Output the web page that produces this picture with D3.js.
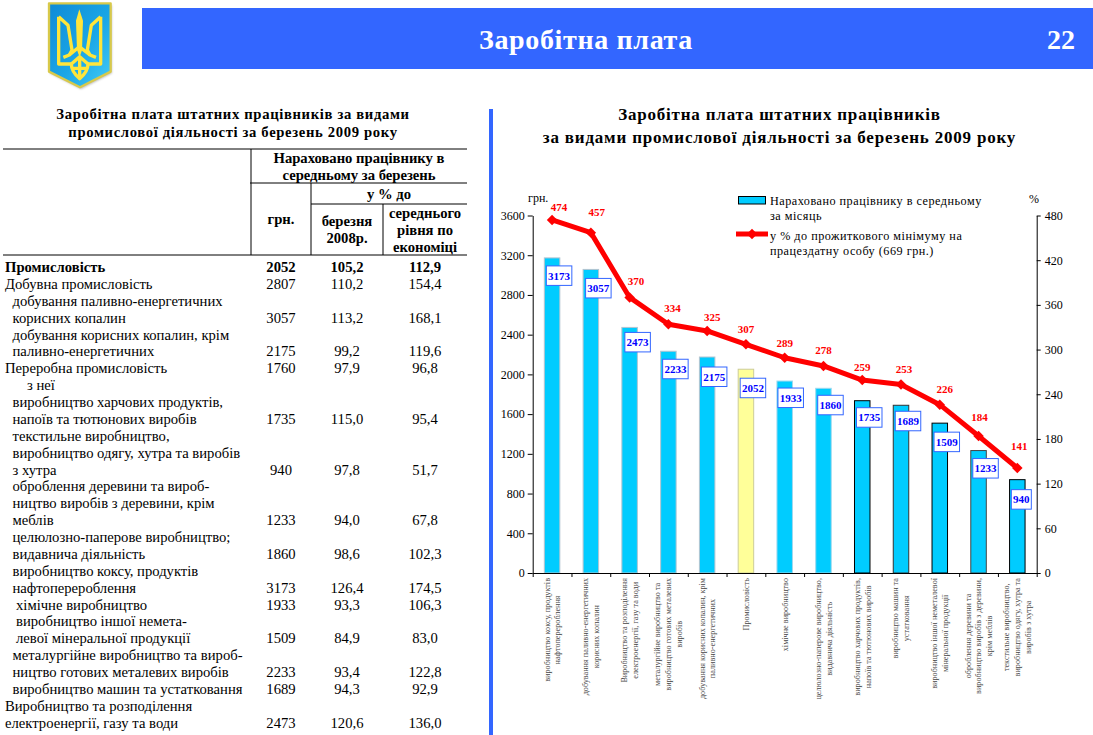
<!DOCTYPE html>
<html lang="uk"><head><meta charset="utf-8">
<script src="https://cdn.jsdelivr.net/npm/d3@7/dist/d3.min.js"></script>
<style>html,body{margin:0;padding:0;background:#fff}svg{display:block}text{font-family:"Liberation Serif",serif}</style>
</head><body><div id="c"></div>
<script>
// ---------- chart data ----------
const categories = [
  ["виробництво коксу, продуктів","нафтоперероблення"],
  ["добування паливно-енергетичних","корисних копалин"],
  ["Виробництво та розподілення","електроенергії, газу та води"],
  ["металургійне виробництво та","виробництво готових металевих","виробів"],
  ["добування корисних копалин, крім","паливно-енергетичних"],
  ["Промисловість"],
  ["хімічне виробництво"],
  ["целюлозно-паперове виробництво,","видавнича діяльність"],
  ["виробництво харчових продуктів,","напоїв та тютюнових виробів"],
  ["виробництво машин та","устатковання"],
  ["виробництво іншої неметалевої","мінеральної продукції"],
  ["оброблення деревини та","виробництво виробів з деревини,","крім меблів"],
  ["текстильне виробництво,","виробництво одягу, хутра та","виробів з хутра"]
];
const wages = [3173,3057,2473,2233,2175,2052,1933,1860,1735,1689,1509,1233,940];
const pctOfMinimum = [474,457,370,334,325,307,289,278,259,253,226,184,141];
const leftTicks = [0,400,800,1200,1600,2000,2400,2800,3200,3600];
const rightTicks = [0,60,120,180,240,300,360,420,480];
const legendBar = ["Нараховано працівнику в середньому","за місяць"];
const legendLine = ["у % до прожиткового мінімуму на","працездатну особу (669 грн.)"];

// ---------- table data ----------
const tableLabels = [
  ["Промисловість"],["Добувна промисловість"],
  ["добування паливно-енергетичних","корисних копалин"],
  ["добування корисних копалин, крім","паливно-енергетичних"],
  ["Переробна промисловість"],["з неї"],
  ["виробництво харчових продуктів,","напоїв та тютюнових виробів"],
  ["текстильне виробництво,","виробництво одягу, хутра та виробів","з хутра"],
  ["оброблення деревини та вироб-","ництво виробів з деревини, крім","меблів"],
  ["целюлозно-паперове виробництво;","видавнича діяльність"],
  ["виробництво коксу, продуктів","нафтоперероблення"],
  ["хімічне виробництво"],
  ["виробництво іншої немета-","левої мінеральної продукції"],
  ["металургійне виробництво та вироб-","ництво готових металевих виробів"],
  ["виробництво машин та устатковання"],
  ["Виробництво та розподілення","електроенергії, газу та води"]
];
const tableUah = ["2052","2807","3057","2175","1760","","1735","940","1233","1860","3173","1933","1509","2233","1689","2473"];
const tablePctYear = ["105,2","110,2","113,2","99,2","97,9","","115,0","97,8","94,0","98,6","126,4","93,3","84,9","93,4","94,3","120,6"];
const tablePctAvg = ["112,9","154,4","168,1","119,6","96,8","","95,4","51,7","67,8","102,3","174,5","106,3","83,0","122,8","92,9","136,0"];

// ---------- layout ----------
const W=1093,H=735;
const plot={l:532.7,r:1036.7,t:215.5,b:573};
const rowIndent=[5,5,12.5,12.5,5,27,12.5,12.5,12.5,12.5,12.5,16,16,12.5,12.5,5];
const boxDx=[7,7.5,8,7,7,7,6,7,7,7,7,7,4];
const boxDy=[8,9,5,8,10,9,7,7,7,6,9,8,10];
const redDx=[7,6,6.5,4,5,0,0,0,0,3,5,1,2];
const redDy=[13,20,16,16,14,15,15,16,13,15,16,19,22];
const edge=["#b4c4d0","#b4c4d0","#b4c4d0","#b4c4d0","#b4c4d0","#cccc99","#9fd8ee","#9fd8ee","#000","#333","#000","#444","#000"];

const svg=d3.select("#c").append("svg").attr("width",W).attr("height",H).attr("viewBox",`0 0 ${W} ${H}`);
const defs=svg.append("defs");
const g1=defs.append("linearGradient").attr("id","sh").attr("x1",0).attr("y1",0).attr("x2",1).attr("y2",1);
g1.append("stop").attr("offset",0).attr("stop-color","#0f8ad6");
g1.append("stop").attr("offset",.55).attr("stop-color","#1aa6e6");
g1.append("stop").attr("offset",1).attr("stop-color","#43ccf8");
const fl=defs.append("filter").attr("id","blur").attr("x","-20%").attr("y","-20%").attr("width","140%").attr("height","140%");
fl.append("feGaussianBlur").attr("stdDeviation",2.5);

// banner
svg.append("rect").attr("x",142).attr("y",8).attr("width",951).attr("height",61).attr("fill","#3366ff");
svg.append("text").attr("x",586).attr("y",49).attr("text-anchor","middle").attr("fill","#fff").attr("font-weight","bold").attr("font-size",28).attr("letter-spacing",.65).text("Заробітна плата");
svg.append("text").attr("x",1061).attr("y",49).attr("text-anchor","middle").attr("fill","#fff").attr("font-weight","bold").attr("font-size",28).text("22");

// emblem
const em=svg.append("g").attr("transform","translate(30,0) scale(0.3333)");
const shield="M57 10 L242 10 L242 215 L150 262 L57 215 Z";
em.append("path").attr("d",shield).attr("fill","#999").attr("transform","translate(3,5)").attr("filter","url(#blur)").attr("opacity",.7);
em.append("path").attr("d",shield).attr("fill","url(#sh)").attr("stroke","#d8c94a").attr("stroke-width",7).attr("stroke-linejoin","round");
const tri=em.append("g").attr("fill","none").attr("stroke","#ffe53a").attr("stroke-width",10).attr("stroke-linejoin","round");
["M86 50 L86 192 L124 192 M86 50 L114 76 L126 150 L118 165 L100 172",
 "M212 50 L212 192 L174 192 M212 50 L184 76 L172 150 L180 165 L198 172",
 "M118 165 L148 140 L180 165 M124 192 C124 215 140 228 149 236 C158 228 174 215 174 192 M149 175 L149 236 M124 192 L149 170 L174 192 M128 205 L170 205"
].forEach(d=>tri.append("path").attr("d",d));
em.append("path").attr("d","M148 28 L159 62 L156 150 L149 172 L141 150 L138 62 Z").attr("fill","#ffe53a");

// divider
svg.append("rect").attr("x",489).attr("y",109).attr("width",4).attr("height",626).attr("fill","#3366ff");

// ---------- left table ----------
const tb=svg.append("g").attr("fill","#000").attr("font-size",14.67);
const centered=(t,x,y,bold)=>tb.append("text").attr("x",x).attr("y",y).attr("text-anchor","middle").attr("font-weight",bold?"bold":null).text(t);
tb.append("text").attr("x",233).attr("y",119).attr("text-anchor","middle").attr("font-weight","bold").attr("letter-spacing",.65).text("Заробітна плата штатних працівників за видами");
tb.append("text").attr("x",233).attr("y",137).attr("text-anchor","middle").attr("font-weight","bold").attr("letter-spacing",.65).text("промислової діяльності  за березень 2009 року");
[[3,467,149],[250,467,183],[311,467,204],[3,467,255]].forEach(([a,b,y])=>tb.append("line").attr("x1",a).attr("x2",b).attr("y1",y).attr("y2",y).attr("stroke","#000"));
[[251,149,255],[311,183,255],[383,204,255]].forEach(([x,a,b])=>tb.append("line").attr("x1",x).attr("x2",x).attr("y1",a).attr("y2",b).attr("stroke","#000"));
[["Нараховано працівнику в",359,163],["середньому за березень",359,180],["у % до",389,199],["грн.",281,224],["березня",347,226],["2008р.",347,243],["середнього",425,218],["рівня по",425,235],["економіці",425,252]]
  .forEach(([t,x,y])=>centered(t,x,y,true));
let lineNo=0;
const rowH=16.88,firstY=272;
tableLabels.forEach((lines,i)=>{
  const bold=i===0;
  lines.forEach(t=>{
    tb.append("text").attr("x",rowIndent[i]).attr("y",firstY+lineNo*rowH).attr("font-weight",bold?"bold":null).text(t);
    lineNo++;
  });
  const y=firstY+(lineNo-1)*rowH;
  centered(tableUah[i],281,y,bold);
  centered(tablePctYear[i],347,y,bold);
  centered(tablePctAvg[i],425,y,bold);
});

// ---------- chart ----------
const ch=svg.append("g");
ch.append("text").attr("x",779.5).attr("y",120).attr("text-anchor","middle").attr("font-weight","bold").attr("font-size",17).attr("letter-spacing",.8).text("Заробітна плата штатних працівників");
ch.append("text").attr("x",779.5).attr("y",143).attr("text-anchor","middle").attr("font-weight","bold").attr("font-size",17).attr("letter-spacing",.8).text("за видами промислової діяльності за березень 2009 року");

const x=d3.scaleBand().domain(d3.range(categories.length)).range([plot.l,plot.r]).paddingInner(0).paddingOuter(0);
const edgeX=d3.scaleLinear().domain([0,categories.length]).range([plot.l,plot.r]);
const yL=d3.scaleLinear().domain([0,3600]).range([plot.b,plot.t]);
const yR=d3.scaleLinear().domain([0,480]).range([plot.b,plot.t]);
const bw=15.5;

// bars
ch.selectAll("rect.bar").data(wages).join("rect").attr("class","bar")
  .attr("x",(d,i)=>x(i)+x.bandwidth()/2-bw/2).attr("width",bw)
  .attr("y",d=>yL(d)).attr("height",d=>plot.b-yL(d))
  .attr("fill",(d,i)=>i===5?"#ffff99":"#00ccff")
  .attr("stroke",(d,i)=>edge[i]).attr("stroke-width",1);

// axes
const style=g=>{g.selectAll("text").attr("font-size",12).attr("font-family",'"Liberation Serif",serif').attr("fill","#000");g.selectAll("path,line").attr("stroke","#000");};
ch.append("g").attr("transform",`translate(${plot.l},0)`).call(d3.axisLeft(yL).tickValues(leftTicks).tickSize(5).tickSizeOuter(0).tickFormat(d3.format("d"))).call(style);
ch.append("g").attr("transform",`translate(${plot.r},0)`).call(d3.axisRight(yR).tickValues(rightTicks).tickSize(4).tickSizeOuter(0).tickFormat(d3.format("d"))).call(style).call(g=>g.selectAll("text").attr("x",8));
ch.append("g").attr("transform",`translate(0,${plot.b})`).call(d3.axisBottom(edgeX).tickValues(d3.range(categories.length+1)).tickSize(4).tickSizeOuter(0).tickFormat("")).call(style);
ch.append("text").attr("x",528).attr("y",202).attr("font-size",12).text("грн.");
ch.append("text").attr("x",1034).attr("y",203).attr("text-anchor","middle").attr("font-size",12).text("%");

// category labels
categories.forEach((lines,i)=>{
  const g=ch.append("g").attr("transform",`translate(${x(i)+x.bandwidth()/2},578) rotate(-90)`).attr("font-size",8.2).attr("fill","#444");
  const ts=lines.map((t,k)=>g.append("text").attr("text-anchor","middle").attr("dy","0.35em").attr("y",(k-(lines.length-1)/2)*10.8).text(t));
  const maxLen=d3.max(ts,s=>s.node().getComputedTextLength());
  ts.forEach(s=>s.attr("x",-maxLen/2));
});

// line + markers
const line=d3.line().x((d,i)=>x(i)+x.bandwidth()/2).y(d=>yR(d));
ch.append("path").datum(pctOfMinimum).attr("d",line).attr("fill","none").attr("stroke","#ff0000").attr("stroke-width",5).attr("stroke-linejoin","round");
const diamond=d3.symbol().type(d3.symbolDiamond2).size(70);
ch.selectAll("path.mk").data(pctOfMinimum).join("path").attr("class","mk").attr("d",diamond)
  .attr("transform",(d,i)=>`translate(${x(i)+x.bandwidth()/2},${yR(d)})`).attr("fill","#ff0000");

// line value labels
ch.selectAll("text.rv").data(pctOfMinimum).join("text").attr("class","rv")
  .attr("x",(d,i)=>x(i)+x.bandwidth()/2+redDx[i]).attr("y",(d,i)=>yR(d)-redDy[i]).attr("dy","0.35em")
  .attr("text-anchor","middle").attr("font-size",11).attr("font-weight","bold").attr("fill","#ff0000").text(d=>d);

// bar value boxes
wages.forEach((v,i)=>{
  const cx=x(i)+x.bandwidth()/2+boxDx[i], top=yL(v)+boxDy[i], w=v<1000?20:25.5, h=19.5;
  const g=ch.append("g");
  g.append("rect").attr("x",cx-w/2).attr("y",top).attr("width",w).attr("height",h).attr("fill","#fff").attr("stroke","#3366ff").attr("stroke-width",1);
  g.append("text").attr("x",cx).attr("y",top+h/2).attr("dy","0.35em").attr("text-anchor","middle").attr("font-size",11).attr("font-weight","bold").attr("fill","#0000ff").text(v);
});

// legend
const lg=ch.append("g").attr("font-size",12.2).attr("fill","#000").attr("letter-spacing",.5);
lg.append("rect").attr("x",738.5).attr("y",196.5).attr("width",27).attr("height",7.5).attr("fill","#00ccff").attr("stroke","#000");
lg.append("path").attr("d","M736 234 H768").attr("stroke","#ff0000").attr("stroke-width",5).attr("fill","none");
lg.append("path").attr("d",diamond).attr("transform","translate(752,234)").attr("fill","#ff0000");
[[legendBar[0],205],[legendBar[1],220],[legendLine[0],240],[legendLine[1],255]].forEach(([t,y])=>lg.append("text").attr("x",770).attr("y",y).text(t));
</script></body></html>
